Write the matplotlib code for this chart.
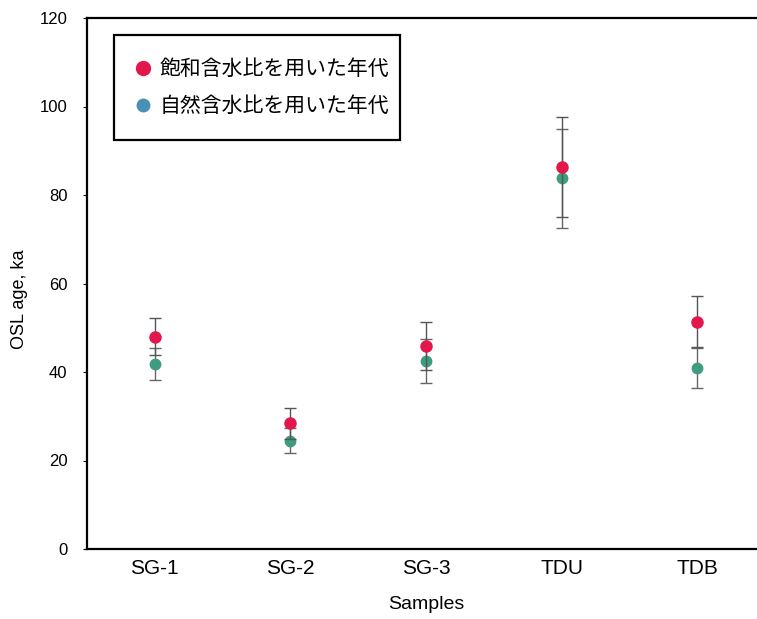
import matplotlib
matplotlib.use("Agg")
import matplotlib.pyplot as plt
from matplotlib.lines import Line2D
from matplotlib.patches import Rectangle

plt.rcParams['font.family'] = ['Liberation Sans', 'Noto Sans CJK JP', 'DejaVu Sans']

samples = ["SG-1", "SG-2", "SG-3", "TDU", "TDB"]
age_saturated = [48.0, 28.4, 45.9, 86.4, 51.4]
err_saturated = [4.1, 3.5, 5.5, 11.3, 5.8]
age_natural = [41.9, 24.5, 42.5, 83.8, 40.9]
err_natural = [3.6, 2.9, 5.0, 11.2, 4.5]
legend_labels = ["飽和含水比を用いた年代", "自然含水比を用いた年代"]

red = "#e3174b"
green = "#3e9c80"
legend_blue = "#4a8fb5"

fig = plt.figure(figsize=(7.57, 6.19), dpi=100)
ax = fig.add_axes([87 / 757, 70 / 619, 678 / 757, 531 / 619])

x = list(range(1, len(samples) + 1))
ax.errorbar(x, age_natural, yerr=err_natural, fmt="o", color=green,
            markersize=7.5, ecolor="#666666", elinewidth=1.0, capsize=4,
            capthick=1.0, zorder=3)
ax.errorbar(x, age_saturated, yerr=err_saturated, fmt="o", color=red,
            markersize=8, ecolor="#555555", elinewidth=1.0, capsize=4,
            capthick=1.0, zorder=4)

ax.set_xlim(0.5, 5.5)
ax.set_ylim(0, 120)
ax.set_yticks(range(0, 121, 20))
ax.set_xticks(x)
ax.set_xticklabels(samples, fontsize=15)
ax.tick_params(axis="x", length=0, pad=7)
ax.tick_params(axis="y", labelsize=12, length=3, direction="out", pad=11)
for sp in ("top", "left", "bottom"):
    ax.spines[sp].set_linewidth(1.6)
ax.spines["right"].set_visible(False)

ax.set_xlabel("Samples", fontsize=14)
ax.set_ylabel("OSL age, ka", fontsize=13)
ax.xaxis.set_label_coords(0.5, -0.088)
ax.yaxis.set_label_coords(-0.087, 0.47)

# legend box drawn as its own rectangle so its padding can be set freely
ax.add_patch(Rectangle((0.0398, 0.7702), 0.4218, 0.1978, transform=ax.transAxes,
                       facecolor="white", edgecolor="black", linewidth=1.6,
                       zorder=5))

handles = [
    Line2D([], [], marker="o", linestyle="none", color=red, markersize=10),
    Line2D([], [], marker="o", linestyle="none", color=legend_blue, markersize=9),
]
leg = ax.legend(handles, legend_labels, loc="center left",
                bbox_to_anchor=(0.0642, 0.869),
                prop={"family": ["Noto Sans CJK JP"], "size": 15},
                frameon=False, handletextpad=0.2, handlelength=1.2,
                borderpad=0, labelspacing=0.7, borderaxespad=0)
leg.set_zorder(6)

fig.savefig("out.png", dpi=100)
